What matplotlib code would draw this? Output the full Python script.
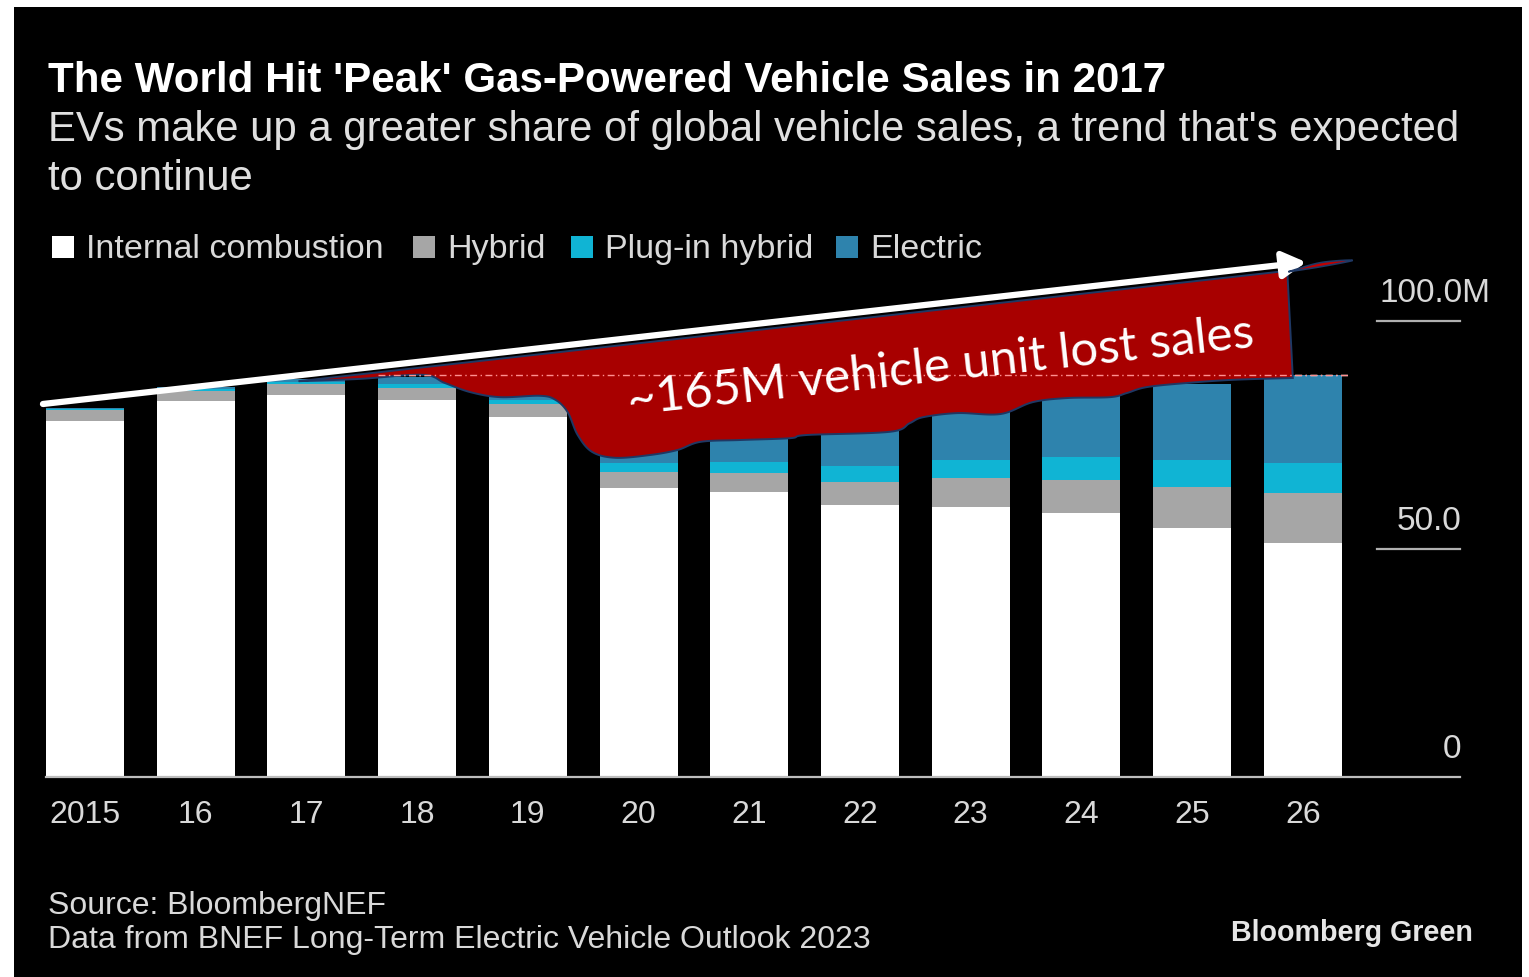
import matplotlib

matplotlib.use("Agg")
import matplotlib.pyplot as plt
import numpy as np
from matplotlib.patches import Polygon, Rectangle

W, H = 1529, 977

years = ["2015", "16", "17", "18", "19", "20", "21", "22", "23", "24", "25", "26"]
internal_combustion = [78.1, 82.5, 83.8, 82.6, 79.0, 63.4, 62.5, 59.6, 59.2, 57.9, 54.6, 51.3]
hybrid = [2.3, 2.2, 2.4, 2.6, 2.9, 3.5, 4.2, 5.0, 6.4, 7.2, 9.0, 11.0]
plug_in_hybrid = [0.2, 0.3, 0.4, 0.9, 0.8, 2.0, 2.4, 3.7, 3.9, 5.1, 5.9, 6.6]
electric = [0.3, 0.5, 0.7, 1.6, 1.8, 3.0, 6.0, 9.0, 12.0, 14.0, 16.7, 19.3]

series_names = ["Internal combustion", "Hybrid", "Plug-in hybrid", "Electric"]
series_colors = ["#ffffff", "#a6a6a6", "#10b4d4", "#2e83ad"]

y_ticks = [0, 50, 100]
y_tick_labels = ["0", "50.0", "100.0M"]

# outline of the "lost sales" banner, in (bar index, million units)
banner_bottom = [
    (10.91, 87.5), (10.37, 87.1), (9.95, 86.4), (9.59, 85.5), (9.41, 84.2),
    (9.26, 83.3), (8.87, 83.1), (8.56, 82.2), (8.27, 79.6), (7.88, 79.8),
    (7.57, 78.9), (7.45, 77.6), (7.27, 75.7), (6.52, 75.0), (6.37, 74.3),
    (5.92, 73.9), (5.56, 73.5), (5.35, 71.7), (5.10, 70.6), (4.79, 70.0),
    (4.58, 71.3), (4.45, 75.0), (4.36, 80.0), (4.25, 82.7), (4.11, 83.6),
    (3.75, 83.3), (3.48, 84.4), (3.25, 86.4), (3.05, 88.2), (2.48, 87.3),
    (1.93, 86.8),
]
banner_top_right = (10.86, 111.0)
arrow_start = (-0.38, 81.8)
arrow_tip = (11.03, 112.9)
leaf = [(10.87, 110.8), (11.16, 112.8), (11.45, 113.3), (11.16, 111.9)]


def smooth(points, n=12):
    """Catmull-Rom pass through the given points."""
    p = np.asarray(points, float)
    p = np.vstack([p[0], p, p[-1]])
    out = []
    for i in range(1, len(p) - 2):
        p0, p1, p2, p3 = p[i - 1], p[i], p[i + 1], p[i + 2]
        for t in np.linspace(0, 1, n, endpoint=False):
            t2, t3 = t * t, t * t * t
            out.append(0.5 * ((2 * p1) + (-p0 + p2) * t
                              + (2 * p0 - 5 * p1 + 4 * p2 - p3) * t2
                              + (-p0 + 3 * p1 - 3 * p2 + p3) * t3))
    out.append(p[-2])
    return np.array(out)


def ftext(x, y, s, **kw):
    kw.setdefault("family", "Liberation Sans")
    return fig.text(x / W, 1 - y / H, s, **kw)


fig = plt.figure(figsize=(W / 100, H / 100), dpi=100, facecolor="white")
fig.patches.append(Rectangle((14 / W, 0), (1522 - 14) / W, 1 - 7 / H,
                             transform=fig.transFigure, facecolor="black",
                             edgecolor="none", zorder=-10))

ax = fig.add_axes([46 / W, 200 / H, (1460 - 46) / W, 537 / H])
ax.set_xlim(-0.3525, 12.42)
ax.set_ylim(0, 537 / 4.56)
ax.axis("off")

x = np.arange(len(years))
bottom = np.zeros(len(years))
for vals, color in zip([internal_combustion, hybrid, plug_in_hybrid, electric], series_colors):
    ax.bar(x, vals, width=0.705, bottom=bottom, color=color, linewidth=0, zorder=1)
    bottom += np.array(vals)
totals = bottom

# level line at the 2026 total
peak = totals[-1]
ax.plot([3 - 0.3525, 11.43], [peak, peak], color="white", lw=1.0,
        ls=(0, (5, 2.5, 1, 2.5)), zorder=2)

# baseline and short tick rules on the right
ax.plot([-0.3525, 12.42], [0, 0], color="#bdbdbd", lw=1.6, zorder=2, clip_on=False)
for v, lab in zip(y_ticks, y_tick_labels):
    if v:
        ax.plot([11.67, 12.42], [v, v], color="#b0b0b0", lw=1.6, clip_on=False)
    xr = 12.70 if lab.endswith("M") else 12.43
    ax.annotate(lab, (xr, v), xytext=(0, 14), textcoords="offset points",
                ha="right", va="baseline", color="#d9d9d9", fontsize=24,
                family="Liberation Sans", annotation_clip=False)

for xi, lab in zip(x, years):
    ax.annotate(lab, (xi, 0), xytext=(0, -33), textcoords="offset points",
                ha="center", va="baseline", color="#d9d9d9", fontsize=23,
                family="Liberation Sans", annotation_clip=False)

# banner
bottom_edge = smooth(banner_bottom)
outline = np.vstack([[banner_top_right], bottom_edge])
banner = Polygon(outline, closed=True, facecolor="#a80000", edgecolor="#1f3864",
                 lw=1.4, zorder=3, clip_on=False)
ax.add_patch(banner)
pink = ax.plot([3 - 0.3525, 11.43], [peak, peak], color="#ff8f8f", lw=1.0,
               ls=(0, (5, 2.5, 1, 2.5)), zorder=4, clip_on=False)[0]
pink.set_clip_path(banner)
ax.text(7.73, 89.9, "~165M vehicle unit lost sales", rotation=6.2,
        rotation_mode="anchor", ha="center", va="center", color="white",
        fontsize=35.5, family="Lato", zorder=5)

ax.annotate("", xy=arrow_tip, xytext=arrow_start,
            arrowprops=dict(arrowstyle="-|>,head_length=0.7,head_width=0.4",
                            mutation_scale=20, lw=4.5, color="white",
                            shrinkA=0, shrinkB=0),
            zorder=6, annotation_clip=False)
leaf_pts = smooth(leaf + [leaf[0]], n=8)
ax.add_patch(Polygon(leaf_pts, closed=True, facecolor="#c00000", edgecolor="#1f3864",
                     lw=1.2, zorder=7, clip_on=False))

# titles
ftext(48, 92, "The World Hit 'Peak' Gas-Powered Vehicle Sales in 2017",
      color="white", fontsize=30.3, fontweight="bold", va="baseline")
ftext(48, 141, "EVs make up a greater share of global vehicle sales, a trend that's expected",
      color="#e0e0e0", fontsize=30.2, va="baseline")
ftext(48, 190, "to continue", color="#e0e0e0", fontsize=30.2, va="baseline")

# legend
legend_x = [52, 413, 571, 836]
for lx, name, color in zip(legend_x, series_names, series_colors):
    fig.patches.append(Rectangle((lx / W, 1 - 258 / H), 22 / W, 22 / H,
                                 transform=fig.transFigure, facecolor=color,
                                 edgecolor="none", zorder=2))
    ftext(lx + 34, 258, name, color="#d9d9d9", fontsize=24.6, va="baseline")

# footer
ftext(48, 914, "Source: BloombergNEF", color="#d9d9d9", fontsize=23, va="baseline")
ftext(48, 948, "Data from BNEF Long-Term Electric Vehicle Outlook 2023",
      color="#d9d9d9", fontsize=23, va="baseline")
ftext(1473, 941, "Bloomberg Green", color="#e6e6e6", fontsize=20.6,
      fontweight="bold", ha="right", va="baseline")

fig.savefig("out.png", dpi=100, facecolor="white")
